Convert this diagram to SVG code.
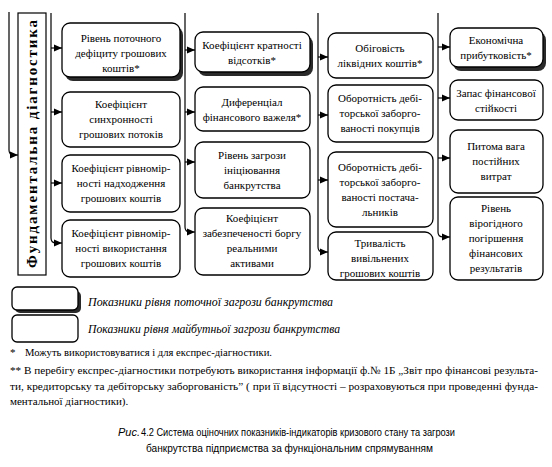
<svg xmlns="http://www.w3.org/2000/svg" width="552" height="467" viewBox="0 0 552 467">
<style>
.box{fill:#fff;stroke:#000;stroke-width:1.3}
.sh{fill:#2a2a2a}
.t{font-family:'Liberation Serif','DejaVu Serif',serif;font-size:11px;fill:#000;text-anchor:middle}
.ln{fill:none;stroke:#000;stroke-width:1.2}
.leg{font-family:'Liberation Serif','DejaVu Serif',serif;font-size:12px;font-style:italic;fill:#000}
.fn{font-family:'Liberation Serif','DejaVu Serif',serif;font-size:11px;fill:#000}
.cap{font-family:'Liberation Sans','DejaVu Sans',sans-serif;font-size:11px;fill:#000}
.vt{font-family:'Liberation Serif','DejaVu Serif',serif;font-size:15px;font-weight:bold;fill:#000;text-anchor:middle}
</style>
<defs>
<marker id="ar" viewBox="0 0 8 8" refX="8" refY="4" markerWidth="8" markerHeight="8" markerUnits="userSpaceOnUse" orient="auto">
<path d="M0,0.5 L8,4 L0,7.5 Z" fill="#000"/>
</marker>
</defs>
<rect width="552" height="467" fill="#fff"/>

<g id="connectors">
<path class="ln" d="M9,12 V150 Q9,155 14,155 H18" marker-end="url(#ar)"/>
<path class="ln" d="M51,13 V238 Q51,243 56,243 H62" marker-end="url(#ar)"/>
<path class="ln" d="M51,48 H62" marker-end="url(#ar)"/>
<path class="ln" d="M51,112 H62" marker-end="url(#ar)"/>
<path class="ln" d="M51,183 H62" marker-end="url(#ar)"/>
<path class="ln" d="M185,13 V227 Q185,232 190,232 H195" marker-end="url(#ar)"/>
<path class="ln" d="M185,50 H195" marker-end="url(#ar)"/>
<path class="ln" d="M185,112 H195" marker-end="url(#ar)"/>
<path class="ln" d="M185,162 H195" marker-end="url(#ar)"/>
<path class="ln" d="M318,13 V247 Q318,252 323,252 H328" marker-end="url(#ar)"/>
<path class="ln" d="M318,57 H328" marker-end="url(#ar)"/>
<path class="ln" d="M318,115 H328" marker-end="url(#ar)"/>
<path class="ln" d="M318,180 H328" marker-end="url(#ar)"/>
<path class="ln" d="M438,13 V232 Q438,237 443,237 H450" marker-end="url(#ar)"/>
<path class="ln" d="M438,47 H450" marker-end="url(#ar)"/>
<path class="ln" d="M438,98 H450" marker-end="url(#ar)"/>
<path class="ln" d="M438,158 H450" marker-end="url(#ar)"/>
</g>

<g id="fund">
<rect x="18" y="13" width="28" height="262" fill="#fff" stroke="#000" stroke-width="1.2"/>
<text class="vt" transform="translate(37,144) rotate(-90)" textLength="248" lengthAdjust="spacing">Фундаментальна діагностика</text>
</g>

<g id="c1b1">
<rect class="sh" x="65" y="27" width="118" height="54" rx="8"/>
<rect class="box" x="62" y="23" width="118" height="54" rx="8"/>
<text class="t"><tspan x="121" y="42">Рівень поточного</tspan><tspan x="121" y="57">дефіциту грошових</tspan><tspan x="121" y="72">коштів*</tspan></text>
</g>
<g id="c1b2">
<rect class="box" x="62" y="92" width="118" height="55" rx="8"/>
<text class="t"><tspan x="121" y="108">Коефіцієнт</tspan><tspan x="121" y="123">синхронності</tspan><tspan x="121" y="138">грошових потоків</tspan></text>
</g>
<g id="c1b3">
<rect class="box" x="62" y="155" width="118" height="57" rx="8"/>
<text class="t"><tspan x="121" y="172">Коефіцієнт рівномір-</tspan><tspan x="121" y="187">ності надходження</tspan><tspan x="121" y="202">грошових коштів</tspan></text>
</g>
<g id="c1b4">
<rect class="box" x="62" y="220" width="118" height="57" rx="8"/>
<text class="t"><tspan x="121" y="237">Коефіцієнт рівномір-</tspan><tspan x="121" y="252">ності використання</tspan><tspan x="121" y="267">грошових коштів</tspan></text>
</g>

<g id="c2b1">
<rect class="sh" x="198" y="36" width="115" height="40" rx="8"/>
<rect class="box" x="195" y="32" width="115" height="40" rx="8"/>
<text class="t"><tspan x="252" y="49">Коефіцієнт кратності</tspan><tspan x="252" y="64">відсотків*</tspan></text>
</g>
<g id="c2b2">
<rect class="box" x="195" y="87" width="115" height="44" rx="8"/>
<text class="t"><tspan x="252" y="106">Диференціал</tspan><tspan x="252" y="121">фінансового важеля*</tspan></text>
</g>
<g id="c2b3">
<rect class="box" x="195" y="142" width="115" height="56" rx="8"/>
<text class="t"><tspan x="252" y="159">Рівень загрози</tspan><tspan x="252" y="174">ініціювання</tspan><tspan x="252" y="189">банкрутства</tspan></text>
</g>
<g id="c2b4">
<rect class="box" x="195" y="208" width="115" height="67" rx="8"/>
<text class="t"><tspan x="252" y="222">Коефіцієнт</tspan><tspan x="252" y="237">забезпеченості боргу</tspan><tspan x="252" y="252">реальними</tspan><tspan x="252" y="267">активами</tspan></text>
</g>

<g id="c3b1">
<rect class="box" x="328" y="33" width="105" height="45" rx="8"/>
<text class="t"><tspan x="380" y="52">Обіговість</tspan><tspan x="380" y="67">ліквідних коштів*</tspan></text>
</g>
<g id="c3b2">
<rect class="box" x="328" y="85" width="105" height="57" rx="8"/>
<text class="t"><tspan x="380" y="102">Оборотність дебі-</tspan><tspan x="380" y="117">торської заборго-</tspan><tspan x="380" y="132">ваності покупців</tspan></text>
</g>
<g id="c3b3">
<rect class="box" x="328" y="152" width="105" height="75" rx="8"/>
<text class="t"><tspan x="380" y="171">Оборотність дебі-</tspan><tspan x="380" y="186">торської заборго-</tspan><tspan x="380" y="201">ваності постача-</tspan><tspan x="380" y="216">льників</tspan></text>
</g>
<g id="c3b4">
<rect class="box" x="328" y="232" width="105" height="48" rx="8"/>
<text class="t"><tspan x="380" y="247">Тривалість</tspan><tspan x="380" y="262">вивільнених</tspan><tspan x="380" y="277">грошових коштів</tspan></text>
</g>

<g id="c4b1">
<rect class="sh" x="453" y="32" width="93" height="39" rx="8"/>
<rect class="box" x="450" y="28" width="93" height="39" rx="8"/>
<text class="t"><tspan x="496" y="44">Економічна</tspan><tspan x="496" y="59">прибутковість*</tspan></text>
</g>
<g id="c4b2">
<rect class="box" x="450" y="80" width="93" height="40" rx="8"/>
<text class="t"><tspan x="496" y="97">Запас фінансової</tspan><tspan x="496" y="112">стійкості</tspan></text>
</g>
<g id="c4b3">
<rect class="box" x="450" y="130" width="93" height="63" rx="8"/>
<text class="t"><tspan x="496" y="150">Питома вага</tspan><tspan x="496" y="165">постійних</tspan><tspan x="496" y="180">витрат</tspan></text>
</g>
<g id="c4b4">
<rect class="box" x="450" y="197" width="93" height="83" rx="8"/>
<text class="t"><tspan x="496" y="212">Рівень</tspan><tspan x="496" y="227">вірогідного</tspan><tspan x="496" y="242">погіршення</tspan><tspan x="496" y="257">фінансових</tspan><tspan x="496" y="272">результатів</tspan></text>
</g>

<g id="legend">
<rect class="sh" x="15" y="291" width="66" height="22" rx="5"/>
<rect class="box" x="12" y="287" width="66" height="23" rx="5"/>
<rect class="box" x="12" y="315" width="66" height="27" rx="5"/>
<text class="leg" x="88" y="306" textLength="245" lengthAdjust="spacingAndGlyphs">Показники рівня поточної загрози банкрутства</text>
<text class="leg" x="88" y="333" textLength="252" lengthAdjust="spacingAndGlyphs">Показники рівня майбутньої загрози банкрутства</text>
</g>

<g id="notes">
<text class="fn" x="10" y="356">*</text>
<text class="fn" x="25" y="356" textLength="247" lengthAdjust="spacingAndGlyphs">Можуть використовуватися і для експрес-діагностики.</text>
<text class="fn" x="10" y="374" textLength="528" lengthAdjust="spacingAndGlyphs">** В перебігу експрес-діагностики потребують використання інформації ф.№ 1Б „Звіт про фінансові результа-</text>
<text class="fn" x="10" y="390" textLength="528" lengthAdjust="spacingAndGlyphs">ти, кредиторську та дебіторську заборгованість” ( при її відсутності – розраховуються  при проведенні  фунда-</text>
<text class="fn" x="10" y="405">ментальної діагностики).</text>
</g>

<g id="caption">
<text class="cap" x="118" y="436" font-style="italic">Рис.</text>
<text class="cap" x="141" y="436" textLength="314" lengthAdjust="spacingAndGlyphs">4.2 Система оціночних показників-індикаторів кризового стану та загрози</text>
<text class="cap" x="146" y="452" textLength="287" lengthAdjust="spacingAndGlyphs">банкрутства підприємства за функціональним спрямуванням</text>
</g>
</svg>
